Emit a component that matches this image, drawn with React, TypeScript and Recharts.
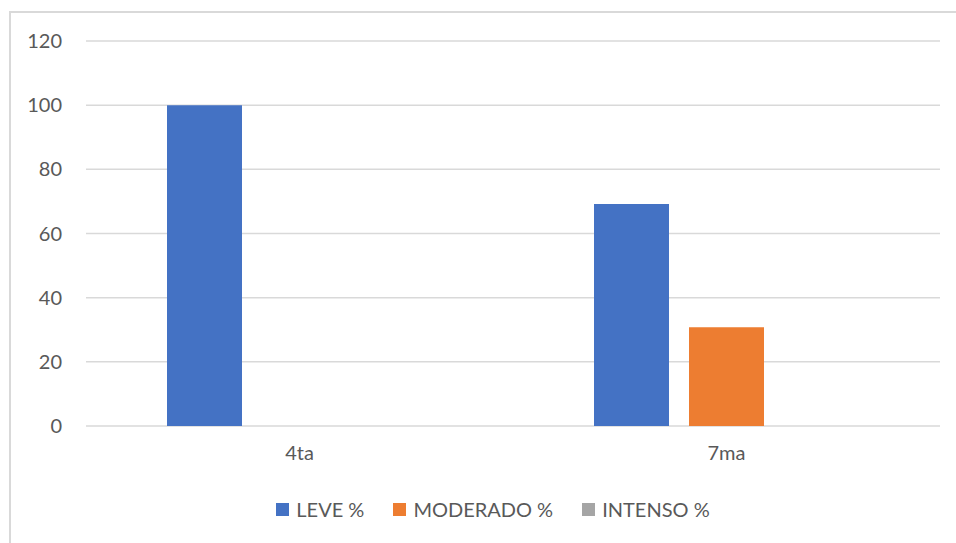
import React from 'react';
import { BarChart, Bar, XAxis, YAxis, CartesianGrid, Legend } from 'recharts';

const grades = ['4ta', '7ma'];
const leve = [100, 69.2];
const moderado = [0, 30.8];
const intenso = [0, 0];
const yTicks = [0, 20, 40, 60, 80, 100, 120];

const series = [
  { key: 'leve', name: 'LEVE %', color: '#4472C4' },
  { key: 'moderado', name: 'MODERADO %', color: '#ED7D31' },
  { key: 'intenso', name: 'INTENSO %', color: '#A5A5A5' },
];

const data = grades.map((g, i) => ({
  grade: g,
  leve: leve[i],
  moderado: moderado[i],
  intenso: intenso[i],
}));

const font = 'Lato, "Open Sans", sans-serif';
const textColor = '#595959';

function LegendRow() {
  return (
    <div style={{ display: 'flex', justifyContent: 'center', gap: 29, fontFamily: font, fontSize: 20, color: textColor }}>
      {series.map((s) => (
        <div key={s.key} style={{ display: 'flex', alignItems: 'center' }}>
          <span style={{ width: 13, height: 13, background: s.color, marginRight: 7, display: 'inline-block' }} />
          <span>{s.name}</span>
        </div>
      ))}
    </div>
  );
}

export default function App() {
  return (
    <div style={{ position: 'absolute', left: 0, top: 0, width: 956, height: 543, background: '#fff', overflow: 'hidden' }}>
      <div style={{ position: 'absolute', left: 9, top: 11, width: 1000, height: 600, borderLeft: '2px solid #d9d9d9', borderTop: '2px solid #d9d9d9' }} />
      <div style={{ position: 'absolute', left: 0, top: 0 }}>
        <BarChart
          width={956}
          height={543}
          data={data}
          margin={{ top: 41, right: 16, bottom: 77, left: 0 }}
          barCategoryGap={81}
          barGap={20}
        >
          <CartesianGrid vertical={false} stroke="#d9d9d9" strokeWidth={1.5} />
          <XAxis
            dataKey="grade"
            axisLine={false}
            tickLine={false}
            tickSize={0}
            tickMargin={20}
            height={40}
            tick={{ fill: textColor, fontSize: 20, fontFamily: font }}
          />
          <YAxis
            domain={[0, 120]}
            ticks={yTicks}
            width={86}
            axisLine={false}
            tickLine={false}
            tickSize={0}
            tickMargin={24}
            tick={{ fill: textColor, fontSize: 20, fontFamily: font }}
          />
          <Legend
            layout="horizontal"
            verticalAlign="middle"
            align="center"
            wrapperStyle={{ top: 497, left: 15, width: 956 }}
            content={() => <LegendRow />}
          />
          {series.map((s) => (
            <Bar key={s.key} dataKey={s.key} name={s.name} fill={s.color} isAnimationActive={false} />
          ))}
        </BarChart>
      </div>
    </div>
  );
}
